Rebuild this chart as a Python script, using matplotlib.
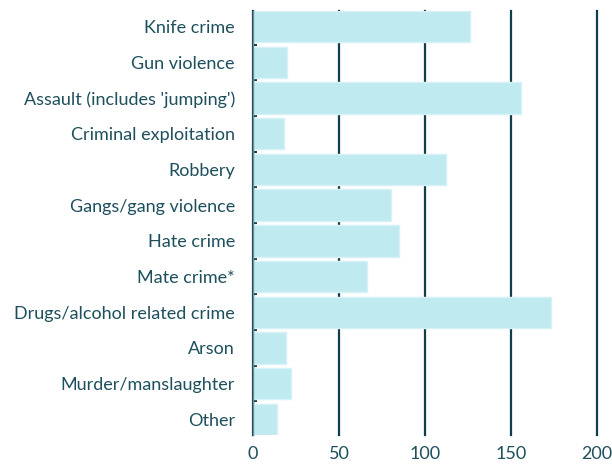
import matplotlib
matplotlib.use("Agg")
import matplotlib.pyplot as plt
import numpy as np

categories = ["Knife crime", "Gun violence", "Assault (includes 'jumping')",
              "Criminal exploitation", "Robbery", "Gangs/gang violence",
              "Hate crime", "Mate crime*", "Drugs/alcohol related crime",
              "Arson", "Murder/manslaughter", "Other"]
values = [126, 20, 156, 18, 112, 80, 85, 66, 173, 19, 22, 14]
xticks = [0, 50, 100, 150, 200]

text_color = "#1d4f5c"
grid_color = "#0e3f4b"
bar_color = "#bfeaf0"

plt.rcParams['font.family'] = ['Lato', 'DejaVu Sans']

fig = plt.figure(figsize=(6.12, 4.65), dpi=100)
ax = fig.add_axes([253/612, 1-435/465, (597-253)/612, (435-11)/465])

y = np.arange(len(categories))
ax.barh(y, values, height=0.88, color=bar_color, edgecolor="#d6f2f6",
        linewidth=1, zorder=3)

ax.set_xlim(0, 200)
ax.set_ylim(len(categories) - 0.56, -0.44)
ax.set_xticks(xticks)
ax.set_xticklabels([str(t) for t in xticks])
ax.set_yticks(y)
ax.set_yticklabels(categories)
ax.set_yticks(np.arange(len(categories) - 1) + 0.5, minor=True)

ax.xaxis.grid(True, color=grid_color, linewidth=1.6, zorder=0)
ax.set_axisbelow(True)
for gl in ax.get_xgridlines():
    gl.set_clip_on(False)

for s in ["top", "right", "bottom"]:
    ax.spines[s].set_visible(False)
ax.spines["left"].set_color("#6a8f98")
ax.spines["left"].set_linewidth(1.0)
ax.spines["left"].set_zorder(4)

ax.tick_params(axis="x", length=0, pad=8, labelsize=13, labelcolor=text_color)
ax.tick_params(axis="y", which="major", length=0, pad=13, labelsize=13,
               labelcolor=text_color)
ax.tick_params(axis="y", which="minor", length=3, width=1.5, direction="in",
               color=grid_color)

fig.savefig("out.png", dpi=100)
